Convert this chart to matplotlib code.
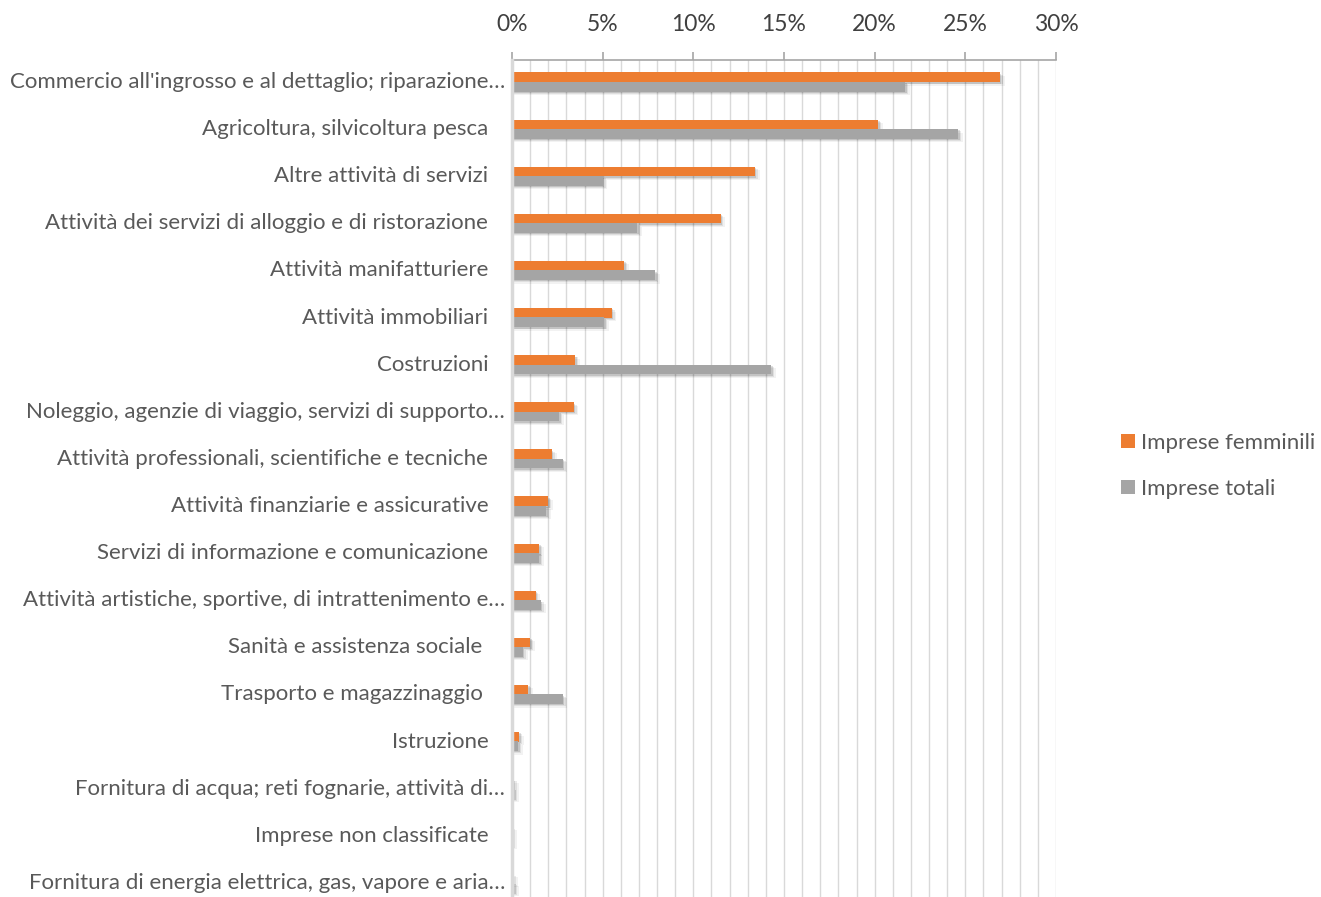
import matplotlib
matplotlib.use("Agg")
import matplotlib.pyplot as plt
import numpy as np

categories = [
    "Commercio all'ingrosso e al dettaglio; riparazione…",
    "Agricoltura, silvicoltura pesca ",
    "Altre attività di servizi ",
    "Attività dei servizi di alloggio e di ristorazione ",
    "Attività manifatturiere ",
    "Attività immobiliari ",
    "Costruzioni ",
    "Noleggio, agenzie di viaggio, servizi di supporto…",
    "Attività professionali, scientifiche e tecniche ",
    "Attività finanziarie e assicurative ",
    "Servizi di informazione e comunicazione ",
    "Attività artistiche, sportive, di intrattenimento e…",
    "Sanità e assistenza sociale  ",
    "Trasporto e magazzinaggio  ",
    "Istruzione ",
    "Fornitura di acqua; reti fognarie, attività di…",
    "Imprese non classificate ",
    "Fornitura di energia elettrica, gas, vapore e aria…",
]
truncated = [c.endswith("…") for c in categories]

imprese_femminili = [26.9, 20.2, 13.4, 11.5, 6.2, 5.5, 3.5, 3.4, 2.2, 2.0,
                     1.5, 1.3, 1.0, 0.9, 0.4, 0.1, 0.02, 0.05]
imprese_totali = [21.7, 24.6, 5.0, 6.9, 7.9, 5.1, 14.3, 2.6, 2.8, 1.9,
                  1.5, 1.6, 0.6, 2.8, 0.35, 0.12, 0.02, 0.12]

xticks = [0, 5, 10, 15, 20, 25, 30]
xtick_labels = ["0%", "5%", "10%", "15%", "20%", "25%", "30%"]

ORANGE = "#ED7D31"
GRAY = "#A5A5A5"
TXT = "#595959"
TICKTXT = "#404040"
FONT = ["Lato", "DejaVu Sans"]
plt.rcParams['font.family'] = FONT
FS = 16

W, H = 1321, 897
fig = plt.figure(figsize=(W / 100, H / 100), dpi=100)
ax = fig.add_axes([512 / W, 0, (1056 - 512) / W, (897 - 60) / H])

n = len(categories)
y = np.arange(n)
bh = 0.205
off = 0.1

# soft drop shadows
for dx, dy, a in [(0.08, 0.03, 0.12), (0.16, 0.05, 0.08), (0.26, 0.075, 0.05)]:
    ax.barh(y - off + dy, np.array(imprese_femminili) + dx, height=bh,
            color="black", alpha=a, zorder=2, linewidth=0)
    ax.barh(y + off + dy, np.array(imprese_totali) + dx, height=bh,
            color="black", alpha=a, zorder=2, linewidth=0)

ax.barh(y - off, imprese_femminili, height=bh, color=ORANGE, zorder=3,
        linewidth=0, label="Imprese femminili")
ax.barh(y + off, imprese_totali, height=bh, color=GRAY, zorder=3,
        linewidth=0, label="Imprese totali")

ax.set_xlim(0, 30)
ax.set_ylim(17.3, -0.467)

for g in range(1, 31):
    ax.axvline(g, color="#D9D9D9", lw=1.0, zorder=1)

for s in ["right", "bottom"]:
    ax.spines[s].set_visible(False)
ax.spines["left"].set_color("#D9D9D9")
ax.spines["left"].set_linewidth(2.5)
ax.spines["left"].set_zorder(4)
ax.spines["top"].set_color("#A6A6A6")
ax.spines["top"].set_linewidth(1.2)

ax.xaxis.tick_top()
ax.set_xticks(xticks)
ax.set_xticklabels(xtick_labels, fontsize=16.5, color=TICKTXT)
ax.tick_params(axis="x", direction="out", length=6, width=1.2,
               color="#A6A6A6", pad=12)
ax.set_yticks([])

for i, (c, t) in enumerate(zip(categories, truncated)):
    ax.annotate(c, xy=(0, i), xycoords=("axes fraction", "data"),
                xytext=(-7 if t else -18, 0), textcoords="offset pixels",
                ha="right", va="center", fontsize=FS, color=TXT)

leg = fig.legend(loc="upper left", bbox_to_anchor=(1101 / W, 1 - 413 / H),
                 frameon=False, fontsize=FS, handlelength=0.62,
                 handleheight=0.62, handletextpad=0.3, labelspacing=1.15)
for t in leg.get_texts():
    t.set_color(TXT)

fig.savefig("out.png", dpi=100)
